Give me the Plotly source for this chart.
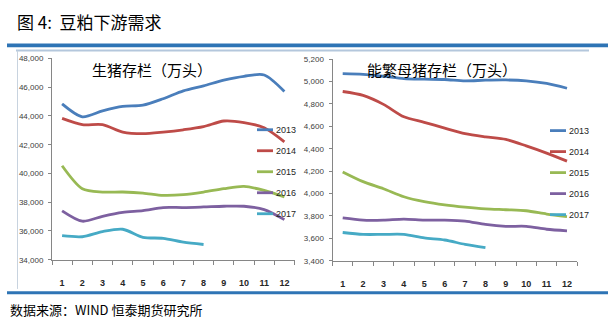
import plotly.graph_objects as go

# ---- data -------------------------------------------------------------
months = [str(m) for m in range(1, 13)]
years = ["2013", "2014", "2015", "2016", "2017"]
colors = ["#4A7EBB", "#BE4B48", "#98B954", "#7D60A0", "#46AAC5"]

# 生猪存栏（万头）
hog_2013 = [44840, 43940, 44350, 44660, 44750, 45200, 45750, 46100, 46490, 46760, 46850, 45700]
hog_2014 = [43830, 43400, 43400, 42880, 42770, 42880, 43040, 43260, 43650, 43540, 43180, 42200]
hog_2015 = [40540, 38940, 38710, 38710, 38640, 38480, 38530, 38710, 38940, 39100, 38820, 38370]
hog_2016 = [37400, 36680, 37020, 37290, 37420, 37630, 37630, 37670, 37720, 37720, 37490, 36790]
hog_2017 = [35670, 35600, 35960, 36120, 35560, 35490, 35220, 35060]

# 能繁母猪存栏（万头）
sow_2013 = [5070, 5064, 5047, 5026, 5021, 5018, 5006, 5012, 5014, 5006, 4983, 4940]
sow_2014 = [4911, 4876, 4796, 4685, 4636, 4584, 4535, 4506, 4483, 4425, 4361, 4289]
sow_2015 = [4193, 4106, 4043, 3971, 3927, 3898, 3878, 3863, 3855, 3846, 3817, 3794]
sow_2016 = [3782, 3762, 3762, 3771, 3762, 3762, 3754, 3724, 3707, 3707, 3681, 3667]
sow_2017 = [3652, 3635, 3635, 3635, 3603, 3585, 3546, 3516]

hog_series = [hog_2013, hog_2014, hog_2015, hog_2016, hog_2017]
sow_series = [sow_2013, sow_2014, sow_2015, sow_2016, sow_2017]

W, H = 616, 326


def px(x):
    return x / W


def py(y):
    return 1 - y / H


fig = go.Figure()

for name, vals, col in zip(years, hog_series, colors):
    fig.add_trace(go.Scatter(x=months[:len(vals)], y=vals, name=name, mode="lines",
                             line=dict(color=col, width=2.8, shape="spline", smoothing=0.8),
                             xaxis="x", yaxis="y", showlegend=False))
for name, vals, col in zip(years, sow_series, colors):
    fig.add_trace(go.Scatter(x=months[:len(vals)], y=vals, name=name, mode="lines",
                             line=dict(color=col, width=2.8, shape="spline", smoothing=0.8),
                             xaxis="x2", yaxis="y2", showlegend=False))

axis_col = "#868686"
tick_font = dict(family="Liberation Sans, Arial", size=8, color="#404040")
xtick_font = dict(family="Liberation Sans, Arial", size=9, color="#262626", weight="bold")

xcommon = dict(type="category", categoryorder="array", categoryarray=months,
               range=[-0.5, 11.5], showgrid=False, zeroline=False,
               showline=True, linecolor=axis_col, linewidth=1,
               ticks="outside", tickson="boundaries", ticklen=4, tickcolor=axis_col,
               tickfont=xtick_font, ticklabelstandoff=14, fixedrange=True)
ycommon = dict(showgrid=False, zeroline=False, showline=True, linecolor=axis_col,
               linewidth=1, ticks="outside", ticklen=3, tickcolor=axis_col,
               tickfont=tick_font, tickformat=",d", ticklabelstandoff=3, fixedrange=True)

fig.update_layout(
    width=W, height=H, margin=dict(l=0, r=0, t=0, b=0),
    paper_bgcolor="white", plot_bgcolor="white",
    xaxis=dict(domain=[px(52), px(294.5)], anchor="y", **xcommon),
    yaxis=dict(domain=[py(263), py(56)], anchor="x", range=[34000, 48000], dtick=2000, **ycommon),
    xaxis2=dict(domain=[px(332.5), px(577.2)], anchor="y2", **xcommon),
    yaxis2=dict(domain=[py(264), py(56.7)], anchor="x2", range=[3400, 5200], dtick=200, **ycommon),
    showlegend=False,
)

shapes = []
annotations = []

# page frame: heavy rules top and bottom, light inner box
frame_blue = "#2E74B5"
shapes.append(dict(type="rect", xref="paper", yref="paper", x0=px(7), x1=px(608),
                   y0=py(44.5), y1=py(40.7), line=dict(width=0), fillcolor=frame_blue))
shapes.append(dict(type="rect", xref="paper", yref="paper", x0=px(7), x1=px(608),
                   y0=py(298.5), y1=py(295.5), line=dict(width=0), fillcolor=frame_blue))
shapes.append(dict(type="line", xref="paper", yref="paper", x0=px(16), x1=px(589),
                   y0=py(47.8), y1=py(47.8), line=dict(color="#B4C7DC", width=2)))
shapes.append(dict(type="line", xref="paper", yref="paper", x0=px(17.5), x1=px(17.5),
                   y0=py(48), y1=py(293), line=dict(color="#C8D3DF", width=1)))

# legends for both panels
legend_panels = [(257, 273, 274, 129.3), (550, 566, 567, 130.2)]
for lx0, lx1, tx, ty0 in legend_panels:
    for i, (name, col) in enumerate(zip(years, colors)):
        yy = ty0 + 21.6 * i
        shapes.append(dict(type="line", xref="paper", yref="paper", x0=px(lx0), x1=px(lx1),
                           y0=py(yy), y1=py(yy), line=dict(color=col, width=2.8)))
        annotations.append(dict(text=name, xref="paper", yref="paper", x=px(tx), y=py(yy),
                                xanchor="left", yanchor="middle", showarrow=False,
                                font=dict(family="Liberation Sans Narrow, Liberation Sans, Arial",
                                          size=9, color="#262626")))

cjk = "Noto Sans CJK SC"
annotations.append(dict(text="生猪存栏（万头）", xref="paper", yref="paper", x=px(152), y=py(67),
                        xanchor="center", yanchor="middle", showarrow=False,
                        font=dict(family=cjk, size=15, color="#000000")))
annotations.append(dict(text="能繁母猪存栏（万头）", xref="paper", yref="paper", x=px(441.5), y=py(67),
                        xanchor="center", yanchor="middle", showarrow=False,
                        font=dict(family=cjk, size=15, color="#000000")))
annotations.append(dict(text="图 4:  豆粕下游需求", xref="paper", yref="paper", x=px(15), y=py(18),
                        xanchor="left", yanchor="middle", showarrow=False,
                        font=dict(family=cjk, size=17, color="#000000")))
annotations.append(dict(text="数据来源：WIND 恒泰期货研究所", xref="paper", yref="paper", x=px(8), y=py(314),
                        xanchor="left", yanchor="middle", showarrow=False,
                        font=dict(family=cjk, size=13, color="#000000")))

fig.update_layout(shapes=shapes, annotations=annotations)

fig.write_html("out.html")
